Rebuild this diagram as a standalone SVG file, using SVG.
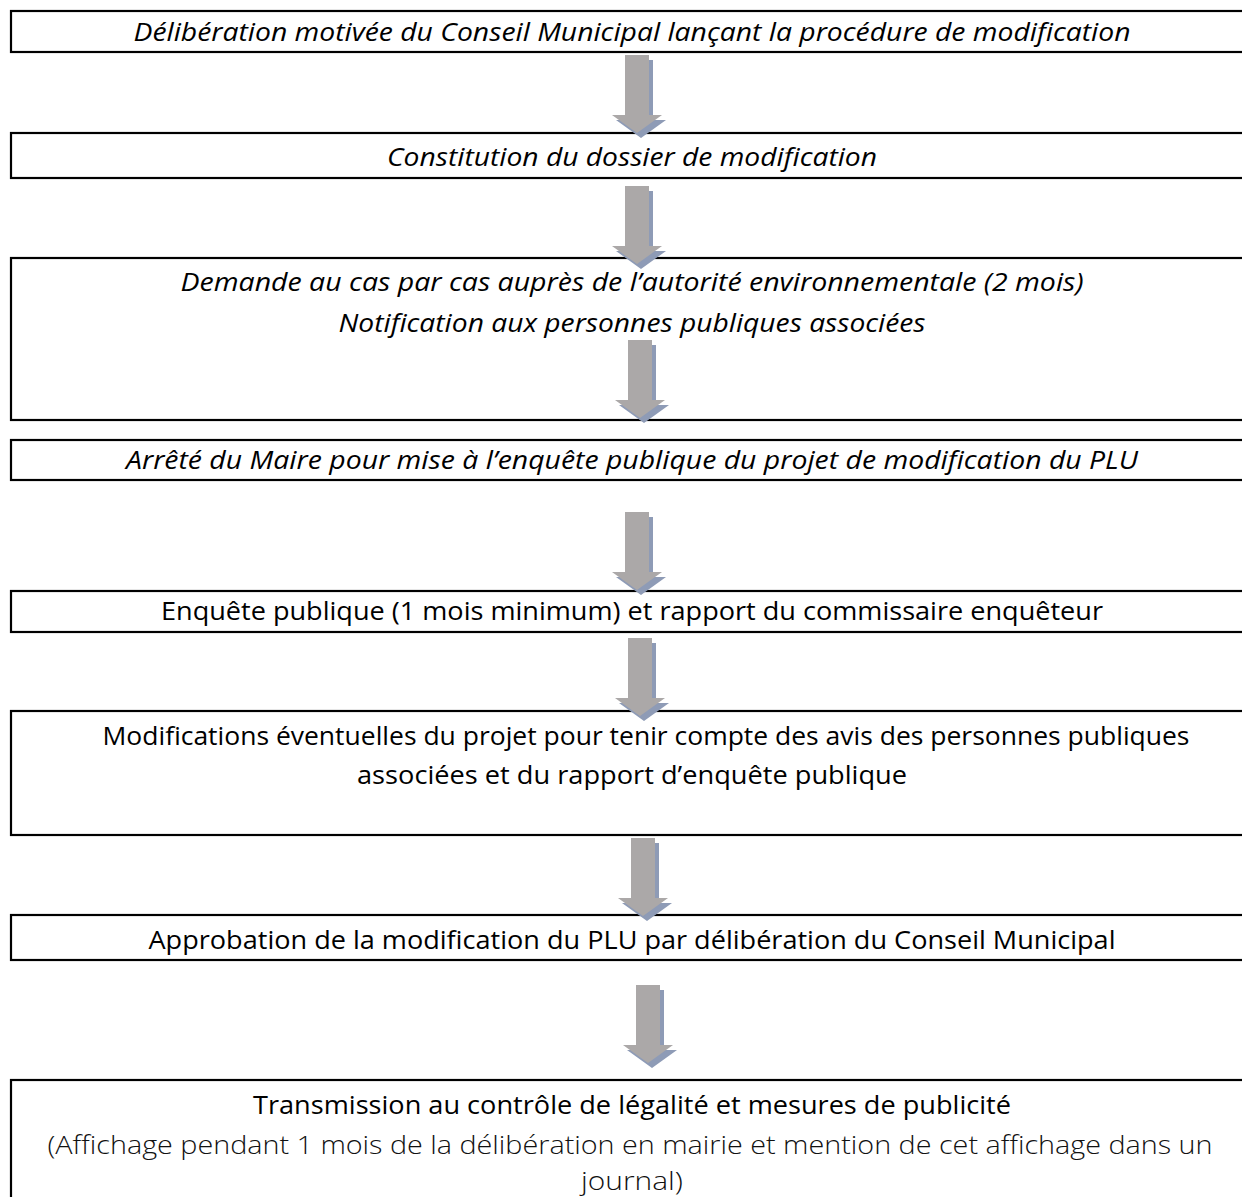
<svg xmlns="http://www.w3.org/2000/svg" xmlns:xlink="http://www.w3.org/1999/xlink" width="1242" height="1197" viewBox="0 0 1242 1197">
<style>
.box{fill:#fff;stroke:#000;stroke-width:2.2}
.t{font-family:"Open Sans","Liberation Sans",sans-serif;font-size:26px;fill:#000;text-anchor:middle}
.i{font-style:italic}
.l{font-weight:300;fill:#111}
</style>
<defs>
<g id="arr">
<path d="M-12,0 H12 V60 H25 L0,78 L-25,60 H-12 Z" fill="#8E9BB6" transform="translate(4,5)"/>
<path d="M-12,0 H12 V60 H25 L0,78 L-25,60 H-12 Z" fill="#ABA8A8"/>
</g>
</defs>
<rect width="1242" height="1197" fill="#fff"/>
<g id="n1"><rect class="box" x="11" y="11" width="1240" height="41"/>
<text class="t i" x="632" y="41" textLength="997" lengthAdjust="spacingAndGlyphs">Délibération motivée du Conseil Municipal lançant la procédure de modification</text></g>
<g id="n2"><rect class="box" x="11" y="133" width="1240" height="45"/>
<text class="t i" x="632" y="166" textLength="490" lengthAdjust="spacingAndGlyphs">Constitution du dossier de modification</text></g>
<g id="n3"><rect class="box" x="11" y="258" width="1240" height="162"/>
<text class="t i" x="632" y="291" textLength="903" lengthAdjust="spacingAndGlyphs">Demande au cas par cas auprès de l’autorité environnementale (2 mois)</text>
<text class="t i" x="632" y="332" textLength="587" lengthAdjust="spacingAndGlyphs">Notification aux personnes publiques associées</text></g>
<g id="n4"><rect class="box" x="11" y="440" width="1240" height="40"/>
<text class="t i" x="632" y="469" textLength="1012" lengthAdjust="spacingAndGlyphs">Arrêté du Maire pour mise à l’enquête publique du projet de modification du PLU</text></g>
<g id="n5"><rect class="box" x="11" y="591" width="1240" height="41"/>
<text class="t" x="632" y="620" textLength="942" lengthAdjust="spacingAndGlyphs">Enquête publique (1 mois minimum) et rapport du commissaire enquêteur</text></g>
<g id="n6"><rect class="box" x="11" y="711" width="1240" height="124"/>
<text class="t" x="646" y="745" textLength="1087" lengthAdjust="spacingAndGlyphs">Modifications éventuelles du projet pour tenir compte des avis des personnes publiques</text>
<text class="t" x="632" y="784" textLength="550" lengthAdjust="spacingAndGlyphs">associées et du rapport d’enquête publique</text></g>
<g id="n7"><rect class="box" x="11" y="915" width="1240" height="45"/>
<text class="t" x="632" y="949" textLength="967" lengthAdjust="spacingAndGlyphs">Approbation de la modification du PLU par délibération du Conseil Municipal</text></g>
<g id="n8"><rect class="box" x="11" y="1080" width="1240" height="140"/>
<text class="t" x="632" y="1114" textLength="758" lengthAdjust="spacingAndGlyphs">Transmission au contrôle de légalité et mesures de publicité</text>
<text class="t l" x="630" y="1154" textLength="1165" lengthAdjust="spacingAndGlyphs">(Affichage pendant 1 mois de la délibération en mairie et mention de cet affichage dans un</text>
<text class="t l" x="632" y="1190" textLength="102" lengthAdjust="spacingAndGlyphs">journal)</text></g>
<g id="connectors">
<use xlink:href="#arr" x="637" y="55"/>
<use xlink:href="#arr" x="637" y="186"/>
<use xlink:href="#arr" x="640" y="340"/>
<use xlink:href="#arr" x="637" y="512"/>
<use xlink:href="#arr" x="640" y="638"/>
<use xlink:href="#arr" x="643" y="838"/>
<use xlink:href="#arr" x="648" y="985"/>
</g>
</svg>
